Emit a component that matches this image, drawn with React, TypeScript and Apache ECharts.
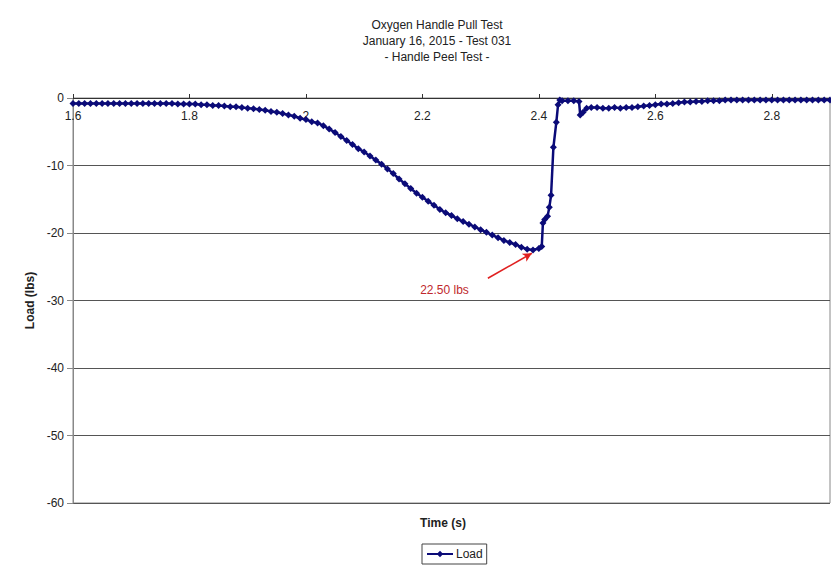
import React, { useEffect, useRef } from "react";
import * as echarts from "echarts";

const titleLines = ["Oxygen Handle Pull Test", "January 16, 2015 - Test 031", "- Handle Peel Test -"];
const xAxisTitle = "Time (s)";
const yAxisTitle = "Load (lbs)";
const seriesName = "Load";
const peakLabel = "22.50 lbs";

const timeS: number[] = [
  1.60, 1.61, 1.62, 1.63, 1.64, 1.65, 1.66, 1.67, 1.68, 1.69,
  1.70, 1.71, 1.72, 1.73, 1.74, 1.75, 1.76, 1.77, 1.78, 1.79,
  1.80, 1.81, 1.82, 1.83, 1.84, 1.85, 1.86, 1.87, 1.88, 1.89,
  1.90, 1.91, 1.92, 1.93, 1.94, 1.95, 1.96, 1.97, 1.98, 1.99,
  2.00, 2.01, 2.02, 2.03, 2.04, 2.05, 2.06, 2.07, 2.08, 2.09,
  2.10, 2.11, 2.12, 2.13, 2.14, 2.15, 2.16, 2.17, 2.18, 2.19,
  2.20, 2.21, 2.22, 2.23, 2.24, 2.25, 2.26, 2.27, 2.28, 2.29,
  2.30, 2.31, 2.32, 2.33, 2.34, 2.35, 2.36, 2.37, 2.38, 2.39,
  2.40, 2.405, 2.407, 2.410, 2.415, 2.418, 2.421, 2.425, 2.430, 2.433,
  2.436, 2.44, 2.45, 2.46, 2.469, 2.471, 2.476, 2.482, 2.49, 2.50,
  2.51, 2.52, 2.53, 2.54, 2.55, 2.56, 2.57, 2.58, 2.59, 2.60,
  2.61, 2.62, 2.63, 2.64, 2.65, 2.66, 2.67, 2.68, 2.69, 2.70,
  2.71, 2.72, 2.73, 2.74, 2.75, 2.76, 2.77, 2.78, 2.79, 2.80,
  2.81, 2.82, 2.83, 2.84, 2.85, 2.86, 2.87, 2.88, 2.89, 2.90,
];

const loadLbs: number[] = [
  -0.8, -0.8, -0.8, -0.8, -0.8, -0.8, -0.8, -0.8, -0.8, -0.8,
  -0.8, -0.8, -0.8, -0.8, -0.8, -0.8, -0.8, -0.8, -0.9, -0.9,
  -0.9, -0.9, -1.0, -1.0, -1.1, -1.1, -1.2, -1.3, -1.3, -1.4,
  -1.5, -1.6, -1.7, -1.8, -2.0, -2.1, -2.3, -2.5, -2.7, -3.0,
  -3.2, -3.5, -3.7, -4.1, -4.6, -5.1, -5.7, -6.3, -6.9, -7.5,
  -8.0, -8.6, -9.2, -9.8, -10.5, -11.2, -12.0, -12.7, -13.4, -14.1,
  -14.7, -15.3, -15.9, -16.5, -17.0, -17.4, -17.9, -18.3, -18.7, -19.1,
  -19.5, -19.9, -20.3, -20.7, -21.1, -21.4, -21.7, -22.1, -22.4, -22.5,
  -22.3, -22.0, -18.5, -18.0, -17.5, -16.2, -14.4, -7.3, -3.6, -1.0,
  -0.3, -0.4, -0.4, -0.4, -0.5, -2.5, -2.1, -1.5, -1.4, -1.4,
  -1.5, -1.5, -1.4, -1.5, -1.4, -1.4, -1.3, -1.2, -1.1, -1.0,
  -0.9, -0.9, -0.8, -0.7, -0.6, -0.6, -0.5, -0.5, -0.4, -0.4,
  -0.4, -0.3, -0.3, -0.3, -0.3, -0.3, -0.3, -0.3, -0.3, -0.3,
  -0.3, -0.3, -0.3, -0.3, -0.3, -0.3, -0.3, -0.3, -0.3, -0.3,
];

// annotation anchors in data space
const arrowFrom: [number, number] = [2.3125, -26.7];
const arrowTo: [number, number] = [2.388, -23.0];
const labelAt: [number, number] = [2.238, -28.4];

const FONT = "'Liberation Sans', Arial, sans-serif";

export default function App() {
  const ref = useRef<HTMLDivElement>(null);
  useEffect(() => {
    if (!ref.current) return;
    const chart = echarts.init(ref.current, null, { renderer: "svg" });
    const data = timeS.map((t, i) => [t, loadLbs[i]]);
    chart.setOption({
      animation: false,
      backgroundColor: "#ffffff",
      textStyle: { fontFamily: FONT },
      graphic: [
        ...titleLines.map((t, i) => ({
          type: "text",
          x: 437,
          y: 25 + i * 16,
          style: {
            text: t,
            fill: "#222",
            font: `12px ${FONT}`,
            textAlign: "center",
            textVerticalAlign: "middle",
          },
        })),
        {
          type: "text",
          x: 443,
          y: 523,
          style: {
            text: xAxisTitle,
            fill: "#222",
            font: `bold 12px ${FONT}`,
            textAlign: "center",
            textVerticalAlign: "middle",
          },
        },
      ],
      grid: {
        left: 73,
        right: 1,
        top: 98,
        bottom: 69,
        show: true,
        borderColor: "#888",
        borderWidth: 1,
        containLabel: false,
      },
      legend: {
        data: [seriesName],
        left: 422,
        top: 544,
        padding: [4, 4, 4, 4],
        itemWidth: 26,
        itemHeight: 8,
        itemGap: 4,
        borderColor: "#444",
        borderWidth: 1,
        textStyle: { color: "#222", fontSize: 12, fontFamily: FONT, padding: [0, 0, 0, -2] },
      },
      xAxis: {
        type: "value",
        position: "top",
        min: 1.6,
        max: 2.9,
        interval: 0.2,
        axisLine: { onZero: false, lineStyle: { color: "#333", width: 1 } },
        axisTick: { inside: false, length: 4, lineStyle: { color: "#333" } },
        axisLabel: {
          inside: true,
          color: "#222",
          fontSize: 12,
          fontFamily: FONT,
          margin: 12,
          showMaxLabel: false,
          formatter: (v: number) => String(Math.round(v * 10) / 10),
        },
        splitLine: { show: false },
      },
      yAxis: {
        type: "value",
        min: -60,
        max: 0,
        interval: 10,
        name: yAxisTitle,
        nameLocation: "middle",
        nameGap: 31,
        nameTextStyle: { color: "#222", fontSize: 12, fontWeight: "bold", fontFamily: FONT },
        axisLine: { show: true, lineStyle: { color: "#888", width: 1 } },
        axisTick: { show: true, length: 6, lineStyle: { color: "#888" } },
        axisLabel: { color: "#222", fontSize: 12, fontFamily: FONT, margin: 9 },
        splitLine: { show: true, lineStyle: { color: "#555", width: 1 } },
      },
      series: [
        {
          name: seriesName,
          type: "line",
          data,
          symbol: "diamond",
          symbolSize: 7,
          showSymbol: true,
          showAllSymbol: true,
          lineStyle: { color: "#0b0b78", width: 2.5 },
          itemStyle: { color: "#0b0b78" },
          markLine: {
            silent: true,
            symbol: ["none", "arrow"],
            symbolSize: [7, 9],
            lineStyle: { color: "#e02020", width: 1.6, type: "solid" },
            label: { show: false },
            data: [[{ coord: arrowFrom }, { coord: arrowTo }]],
          },
          markPoint: {
            silent: true,
            symbol: "circle",
            symbolSize: 0,
            label: {
              show: true,
              position: "inside",
              formatter: peakLabel,
              color: "#c0282d",
              fontSize: 12,
              fontFamily: FONT,
            },
            data: [{ coord: labelAt }],
          },
        },
      ],
    });
    return () => chart.dispose();
  }, []);
  return (
    <div
      ref={ref}
      style={{ position: "fixed", left: 0, top: 0, width: 831, height: 572 }}
    />
  );
}
